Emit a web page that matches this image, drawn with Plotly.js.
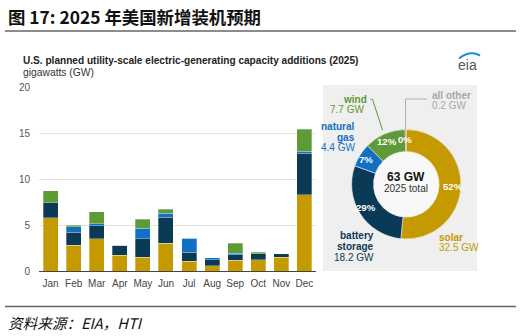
<!DOCTYPE html>
<html>
<head>
<meta charset="utf-8">
<script src="https://cdn.plot.ly/plotly-3.0.1.min.js"></script>
<style>html,body{margin:0;padding:0;background:#fff}#chart{width:521px;height:336px}</style>
</head>
<body>
<div id="chart"></div>
<script>
// ---- data ----
var months = ['Jan','Feb','Mar','Apr','May','Jun','Jul','Aug','Sep','Oct','Nov','Dec'];
var solar   = [5.8, 2.8, 3.5, 1.7, 1.5, 3.0, 1.05, 0.55, 1.15, 1.25, 1.5, 8.3];
var battery = [1.6, 1.4, 1.4, 1.1, 2.0, 2.85, 1.0, 0.65, 0.6, 0.6, 0.4, 4.5];
var gas     = [0, 0.6, 0.25, 0, 1.15, 0.45, 1.5, 0.25, 0.2, 0, 0, 0.2];
var wind    = [1.3, 0.2, 1.3, 0, 1.0, 0.4, 0, 0, 1.05, 0.2, 0, 2.4];
var yTicks  = [0, 5, 10, 15, 20];

var pieLabels = ['solar', 'battery storage', 'natural gas', 'wind', 'all other'];
var pieValues = [32.5, 18.2, 4.4, 7.7, 0.2];
var totalGW = 63;
var totalYear = '2025';

// ---- styles ----
var C = {solar:'#c49a00', battery:'#0b3a56', gas:'#1170c2', wind:'#5e9a36', other:'#b5473a', otherTxt:'#a8a8a8'};
var FONT = 'Liberation Sans, Arial, sans-serif';
var W = 521, H = 336;
function X(x){return x/W;}
function Y(y){return 1 - y/H;}

function bar(name, vals, color){
  return {type:'bar', name:name, x:months, y:vals, marker:{color:color, line:{color:'rgba(255,255,255,0.6)', width:0.5}},
          hoverinfo:'none', showlegend:false};
}
var traces = [
  bar('solar', solar, C.solar),
  bar('battery storage', battery, C.battery),
  bar('natural gas', gas, C.gas),
  bar('wind', wind, C.wind),
  {type:'pie', labels:pieLabels, values:pieValues, sort:false, direction:'clockwise', rotation:0,
   hole:0.6, domain:{x:[X(351.6), X(461)], y:[Y(239), Y(129.6)]},
   marker:{colors:[C.solar, C.battery, C.gas, C.wind, C.other], line:{color:'#eeeeee', width:0.6}},
   textinfo:'none', hoverinfo:'none', showlegend:false}
];

function ann(text, x, y, o){
  o = o || {};
  return {text:text, x:X(x), y:Y(y), xref:'paper', yref:'paper', showarrow:false,
          xanchor:o.xa||'left', yanchor:'middle', align:o.xa||'left',
          font:{family:o.family||FONT, size:o.size||10, color:o.color||'#333'}};
}
function gw(v){return v.toFixed(1) + ' GW';}
function pctOf(v){return '<b>' + Math.round(v/totalGW*100) + '%</b>';}
var PCT = {xa:'center', size:9.6, color:'#ffffff'};

var annotations = [
  ann('<b>图 17: 2025 年美国新增装机预期</b>', 6, 16, {family:'Noto Sans CJK SC', size:17.4, color:'#111'}),
  ann('<i>资料来源：EIA，HTI</i>', 6, 322, {family:'Noto Sans CJK SC', size:14.6, color:'#111'}),
  ann('<b>U.S. planned utility-scale electric-generating capacity additions (2025)</b>', 21, 60, {size:10.1, color:'#222'}),
  ann('gigawatts (GW)', 21, 72, {size:10.3, color:'#333'}),
  ann('eia', 467, 65, {xa:'center', size:14, color:'#555'}),
  // pie labels
  ann('<b>wind</b>', 369, 99, {xa:'right', color:C.wind}),
  ann(gw(pieValues[3]), 366, 109.5, {xa:'right', color:C.wind}),
  ann('<b>natural</b>', 357, 126, {xa:'right', color:C.gas}),
  ann('<b>gas</b>', 357, 137, {xa:'right', color:C.gas}),
  ann(gw(pieValues[2]), 357, 147.5, {xa:'right', color:C.gas}),
  ann('<b>battery</b>', 376, 236, {xa:'right', color:C.battery}),
  ann('<b>storage</b>', 376, 246.5, {xa:'right', color:C.battery}),
  ann(gw(pieValues[1]), 376, 257, {xa:'right', color:C.battery}),
  ann('<b>solar</b>', 437, 237, {color:C.solar}),
  ann(gw(pieValues[0]), 437, 247.5, {color:C.solar}),
  ann('<b>all other</b>', 430, 95, {color:C.otherTxt}),
  ann(gw(pieValues[4]), 430, 105.5, {color:C.otherTxt}),
  // percentages
  ann(pctOf(pieValues[0]), 453, 186, PCT),
  ann(pctOf(pieValues[1]), 366, 207, PCT),
  ann(pctOf(pieValues[2]), 366, 159, PCT),
  ann(pctOf(pieValues[3]), 386.5, 141, PCT),
  ann(pctOf(pieValues[4]), 405, 139, PCT),
  ann('<b>' + totalGW + ' GW</b>', 406.3, 177, {xa:'center', size:12, color:'#111'}),
  ann(totalYear + ' total', 406.3, 188, {xa:'center', size:10, color:'#333'})
];

var shapes = [
  {type:'line', xref:'paper', yref:'paper', x0:X(5), x1:X(516), y0:Y(31), y1:Y(31), line:{color:'#666', width:1.5}},
  {type:'line', xref:'paper', yref:'paper', x0:X(5), x1:X(516), y0:Y(306.5), y1:Y(306.5), line:{color:'#666', width:1.5}},
  {type:'rect', layer:'below', xref:'paper', yref:'paper', x0:X(323), x1:X(477), y0:Y(271), y1:Y(85), fillcolor:'#efefef', line:{width:0}},
  {type:'circle', layer:'below', xref:'paper', yref:'paper', xsizemode:'pixel', ysizemode:'pixel',
   xanchor:X(406.3), yanchor:Y(184.3), x0:-33, x1:33, y0:-33, y1:33, fillcolor:'#f8f8f8', line:{width:0}},
  // leader lines
  {type:'path', xref:'paper', yref:'paper', path:'M'+X(370.5)+','+Y(99.3)+' L'+X(372.5)+','+Y(99.3)+' L'+X(382.5)+','+Y(130),
   line:{color:C.wind, width:1}},
  {type:'path', xref:'paper', yref:'paper', path:'M'+X(427)+','+Y(99)+' L'+X(405.5)+','+Y(99)+' L'+X(405.5)+','+Y(129),
   line:{color:'#b0b0b0', width:1}},
  // eia swoosh
  {type:'path', xref:'paper', yref:'paper', path:'M'+X(459)+','+Y(58.5)+' Q'+X(470)+','+Y(50)+' '+X(480)+','+Y(55.5),
   line:{color:'#1a8fd6', width:2}}
];

var layout = {
  width:W, height:H, margin:{l:0, r:0, t:0, b:0}, paper_bgcolor:'#ffffff', plot_bgcolor:'rgba(0,0,0,0)',
  barmode:'stack', bargap:0.35, showlegend:false, font:{family:FONT},
  xaxis:{domain:[X(39), X(316)], type:'category', showline:true, linecolor:'#444', linewidth:1,
         ticks:'', tickfont:{family:FONT, size:10, color:'#444'}, ticklabelstandoff:3, fixedrange:true},
  yaxis:{domain:[Y(271), Y(87)], range:[0,20], tickvals:yTicks, showgrid:true, gridcolor:'#e2e2e2', gridwidth:1,
         zeroline:false, ticks:'', tickfont:{family:FONT, size:10, color:'#555'}, ticklabelstandoff:8, fixedrange:true},
  annotations:annotations, shapes:shapes
};
Plotly.newPlot('chart', traces, layout, {staticPlot:true, displayModeBar:false});
</script>
</body>
</html>
